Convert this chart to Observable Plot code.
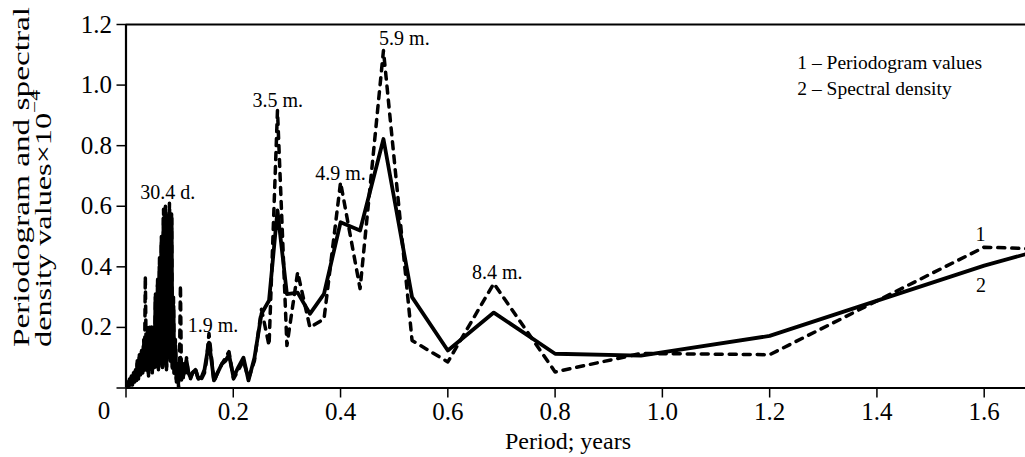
<!DOCTYPE html>
<html><head><meta charset="utf-8">
<script src="https://cdn.jsdelivr.net/npm/d3@7"></script>
<script src="https://cdn.jsdelivr.net/npm/@observablehq/plot@0.6"></script>
<style>body{margin:0;background:#fff}</style>
</head><body><div id="chart"></div>
<script>
// Period, years
const period = [
  0.001, 0.003, 0.005, 0.0065, 0.008, 0.010, 0.012, 0.014, 0.016, 0.018,
  0.0195, 0.021, 0.023, 0.025, 0.027, 0.029, 0.031, 0.033, 0.0345, 0.036,
  0.038, 0.040, 0.042, 0.044, 0.0455, 0.0475, 0.049, 0.051, 0.053, 0.055,
  0.057, 0.059, 0.0605, 0.0625, 0.064, 0.066, 0.068, 0.070, 0.072, 0.0735,
  0.0755, 0.0775, 0.079, 0.081, 0.083, 0.085, 0.0865, 0.0885, 0.090, 0.092,
  0.094, 0.096, 0.098, 0.0995, 0.1015, 0.1035, 0.105, 0.107, 0.109, 0.111,
  0.1128, 0.1165, 0.1202, 0.1240, 0.1295, 0.1351, 0.1407, 0.1463, 0.1500, 0.1547,
  0.1594, 0.1640, 0.1706, 0.1789, 0.1855, 0.1920, 0.2004, 0.2097, 0.2190, 0.2283,
  0.2395, 0.2526, 0.2667, 0.2824, 0.3000, 0.3200, 0.3429, 0.3692, 0.4000, 0.4364,
  0.4800, 0.5333, 0.6000, 0.6857, 0.8000, 0.9600, 1.2000, 1.6000, 2.4000
];
// 1 – Periodogram values (x 10^-4)
const periodogram = [
  0.005, 0.02, 0.0, 0.03, 0.01, 0.04, 0.01, 0.05, 0.02, 0.07,
  0.02, 0.09, 0.03, 0.11, 0.04, 0.13, 0.05, 0.16, 0.06, 0.37,
  0.05, 0.20, 0.04, 0.19, 0.06, 0.21, 0.05, 0.18, 0.06, 0.31,
  0.07, 0.37, 0.06, 0.43, 0.08, 0.50, 0.06, 0.59, 0.08, 0.60,
  0.06, 0.57, 0.10, 0.61, 0.08, 0.58, 0.06, 0.30, 0.04, 0.16,
  0.02, 0.08, 0.0, 0.05, 0.34, 0.02, 0.07, 0.03, 0.08, 0.05,
  0.10, 0.04, 0.03, 0.05, 0.065, 0.025, 0.03, 0.05, 0.09, 0.18,
  0.10, 0.02, 0.05, 0.08, 0.10, 0.12, 0.03, 0.06, 0.09, 0.03,
  0.09, 0.26, 0.14, 0.916, 0.14, 0.382, 0.20, 0.228, 0.679, 0.328,
  1.114, 0.157, 0.086, 0.345, 0.053, 0.114, 0.110, 0.465, 0.415
];
// 2 – Spectral density (x 10^-4)
const spectral = [
  0.01, 0.015, 0.005, 0.025, 0.01, 0.035, 0.015, 0.045, 0.02, 0.06,
  0.025, 0.08, 0.03, 0.10, 0.045, 0.12, 0.05, 0.14, 0.06, 0.15,
  0.06, 0.18, 0.05, 0.20, 0.07, 0.20, 0.06, 0.20, 0.07, 0.30,
  0.08, 0.34, 0.07, 0.40, 0.09, 0.48, 0.07, 0.56, 0.09, 0.58,
  0.07, 0.55, 0.11, 0.59, 0.09, 0.56, 0.07, 0.27, 0.05, 0.14,
  0.03, 0.08, 0.02, 0.06, 0.10, 0.03, 0.07, 0.04, 0.08, 0.06,
  0.09, 0.05, 0.035, 0.05, 0.06, 0.03, 0.035, 0.06, 0.10, 0.15,
  0.09, 0.025, 0.05, 0.08, 0.09, 0.11, 0.035, 0.07, 0.10, 0.025,
  0.10, 0.245, 0.289, 0.586, 0.31, 0.315, 0.245, 0.311, 0.547, 0.52,
  0.822, 0.30, 0.124, 0.249, 0.113, 0.107, 0.172, 0.404, 0.794
];

const xTicks = [0, 0.2, 0.4, 0.6, 0.8, 1.0, 1.2, 1.4, 1.6];
const yTicks = [0, 0.2, 0.4, 0.6, 0.8, 1.0, 1.2];

const peakText = ["30.4 d.", "1.9 m.", "3.5 m.", "4.9 m.", "5.9 m.", "8.4 m.", "1", "2"];
const peakX = [0.0779, 0.1622, 0.283, 0.400, 0.519, 0.692, 1.593, 1.594];
const peakY = [0.646, 0.206, 0.949, 0.707, 1.153, 0.382, 0.507, 0.338];

const legendText = ["1 \u2013 Periodogram values", "2 \u2013 Spectral density"];
const legendX = [1.2516, 1.2516];
const legendY = [1.074, 0.989];

const rows = period.map((p, i) => ({period: p, periodogram: periodogram[i], spectral: spectral[i]}));
const peaks = peakText.map((t, i) => ({t, x: peakX[i], y: peakY[i]}));
const legend = legendText.map((t, i) => ({t, x: legendX[i], y: legendY[i]}));

const fmt = d => d === 0 ? "" : d.toFixed(1);
const ff = "'Liberation Serif', 'Times New Roman', serif";

const chart = Plot.plot({
  width: 1025, height: 457,
  marginLeft: 125.5, marginRight: 0, marginTop: 24, marginBottom: 69.5,
  style: {fontFamily: ff, fontSize: "22px", color: "#000", background: "#fff"},
  x: {domain: [0, 1.677]},
  y: {domain: [0, 1.2]},
  marks: [
    Plot.axisX({ticks: xTicks, tickSize: 10, tickPadding: 4, tickFormat: fmt, label: null, strokeWidth: 1.5, fontSize: 25}),
    Plot.axisY({ticks: yTicks, tickSize: 9, tickPadding: 5, tickFormat: fmt, label: null, strokeWidth: 1.5, fontSize: 25}),
    Plot.ruleY([0], {strokeWidth: 2.2}),
    Plot.ruleY([1.2], {strokeWidth: 2.2}),
    Plot.ruleX([0], {strokeWidth: 2.2}),
    Plot.line(rows, {x: "period", y: "spectral", stroke: "#000", strokeWidth: 3.8, strokeLinejoin: "round", clip: true}),
    Plot.line(rows, {x: "period", y: "periodogram", stroke: "#000", strokeWidth: 3.5, strokeDasharray: "7,7", strokeLinecap: "round", strokeLinejoin: "round", clip: true}),
    Plot.text(peaks, {x: "x", y: "y", text: "t", fontSize: 20, fill: "#000"}),
    Plot.text(legend, {x: "x", y: "y", text: "t", fontSize: 19.5, textAnchor: "start", fill: "#000"})
  ]
});
document.getElementById("chart").append(chart);

const svg = d3.select(chart);
svg.append("text").attr("x", 104).attr("y", 401.5).attr("dy", "0.71em")
  .attr("text-anchor", "middle").attr("font-size", 25).attr("font-family", ff).text("0");
svg.append("text").attr("x", 568).attr("y", 449).attr("text-anchor", "middle")
  .attr("font-size", 24).attr("font-family", ff).text("Period; years");
svg.append("text").attr("transform", "translate(29,347) rotate(-90)")
  .attr("text-anchor", "start")
  .attr("font-size", 24).attr("font-family", ff)
  .attr("textLength", 340).attr("lengthAdjust", "spacingAndGlyphs")
  .text("Periodogram and spectral");
const t2 = svg.append("text").attr("transform", "translate(51,347) rotate(-90)")
  .attr("text-anchor", "start")
  .attr("font-size", 24).attr("font-family", ff)
  .attr("textLength", 257).attr("lengthAdjust", "spacingAndGlyphs");
t2.append("tspan").text("density values\u00d710");
t2.append("tspan").attr("dy", -11).attr("font-size", 16).text("\u22124");
</script>
</body></html>
